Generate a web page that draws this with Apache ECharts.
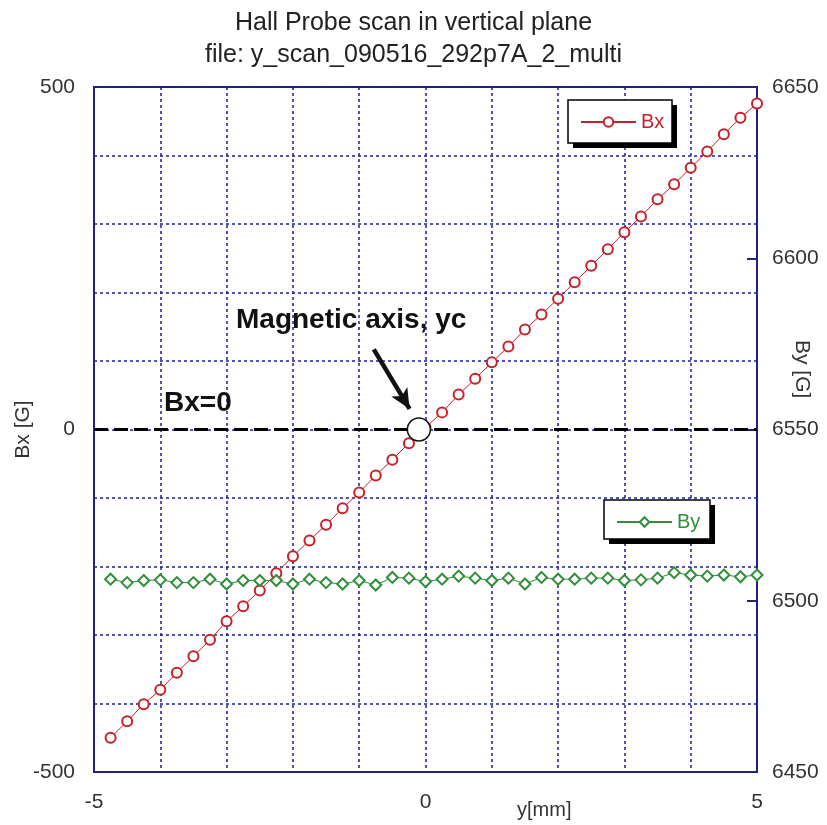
<!DOCTYPE html>
<html>
<head>
<meta charset="utf-8">
<title>Hall Probe scan</title>
<script src="https://cdn.jsdelivr.net/npm/echarts@6/dist/echarts.min.js"></script>
<style>
  html, body { margin: 0; padding: 0; background: #fff; }
  #chart { width: 827px; height: 825px; }
</style>
</head>
<body>
<div id="chart"></div>
<script>
// scan positions y [mm]
const yPos = [
  -4.75, -4.5, -4.25, -4, -3.75, -3.5, -3.25, -3, -2.75, -2.5,
  -2.25, -2, -1.75, -1.5, -1.25, -1, -0.75, -0.5, -0.25, 0,
  0.25, 0.5, 0.75, 1, 1.25, 1.5, 1.75, 2, 2.25, 2.5,
  2.75, 3, 3.25, 3.5, 3.75, 4, 4.25, 4.5, 4.75, 5
]

// Bx [G], left axis
const bxValues = [
  -450, -426, -401, -380, -355, -331, -307, -280, -258, -235,
  -210, -185, -162, -139, -115, -92, -67, -44, -20, 3,
  25, 51, 74, 98, 121, 146, 168, 191, 215, 239,
  263, 288, 311, 336, 358, 382, 406, 431, 455, 476
]

// By [G], right axis
const byValues = [
  6506.3, 6505.3, 6505.9, 6506.1, 6505.3, 6505.3, 6506.3, 6504.9, 6505.9, 6505.9,
  6505.9, 6504.9, 6506.3, 6505.3, 6504.9, 6505.9, 6504.6, 6506.8, 6506.6, 6505.6,
  6506.3, 6507.2, 6506.6, 6505.9, 6506.6, 6504.9, 6506.8, 6506.3, 6506.3, 6506.6,
  6506.6, 6505.9, 6506.1, 6506.6, 6508.2, 6507.5, 6507.2, 6507.5, 6507.0, 6507.5
]

const xTickLabels = [-5, 0, 5]
const bxTickLabels = [-500, 0, 500]
const byTickLabels = [6450, 6500, 6550, 6600, 6650]

// magnetic axis crossing and the arrow pointing at it (data coords)
const magAxis = [[-0.1, 0]]
const arrowFrom = [-0.78, 117]
const arrowTo = [-0.24, 30]

const gridColor = '#1c1c9a'
const frameColor = '#23237f'
const bxColor = '#c8202a'
const byColor = '#2f8f3a'
const font = 'Liberation Sans, Arial, sans-serif'

const chart = echarts.init(document.getElementById('chart'))

// boxed legend with a hard black drop shadow
const legendBox = (x, y, w, h) => ([
  { type: 'rect', z: 20, shape: { x: x + 5, y: y + 5, width: w, height: h }, style: { fill: '#000' } },
  { type: 'rect', z: 21, shape: { x: x, y: y, width: w, height: h }, style: { fill: '#fff', stroke: '#000', lineWidth: 1.5 } }
])

const legendBase = {
  orient: 'horizontal',
  padding: 0,
  itemWidth: 55,
  itemHeight: 12,
  selectedMode: false,
  z: 30
}

const option = {
  backgroundColor: '#fff',
  animation: false,
  title: {
    text: 'Hall Probe scan in vertical plane\nfile: y_scan_090516_292p7A_2_multi',
    left: 'center',
    top: 2,
    textStyle: {
      fontFamily: font,
      fontSize: 25,
      fontWeight: 'normal',
      color: '#222',
      lineHeight: 32
    }
  },
  legend: [
    Object.assign({}, legendBase, {
      left: 580,
      top: 112,
      data: [{ name: 'Bx', textStyle: { color: bxColor } }],
      textStyle: { fontFamily: font, fontSize: 20, color: bxColor }
    }),
    Object.assign({}, legendBase, {
      left: 616,
      top: 512,
      data: [{ name: 'By', textStyle: { color: byColor } }],
      textStyle: { fontFamily: font, fontSize: 20, color: byColor }
    })
  ],
  grid: {
    left: 94,
    right: 70,
    top: 87,
    bottom: 53,
    outerBoundsMode: 'none',
    containLabel: false,
    show: true,
    borderColor: frameColor,
    borderWidth: 2,
    backgroundColor: '#fff'
  },
  xAxis: {
    type: 'value',
    min: -5,
    max: 5,
    interval: 1,
    axisLine: { onZero: false, lineStyle: { color: frameColor, width: 2 } },
    axisTick: { show: false },
    axisLabel: {
      margin: 20,
      fontFamily: font,
      fontSize: 21,
      color: '#333',
      formatter: v => xTickLabels.includes(v) ? String(v) : ''
    },
    splitLine: {
      show: true,
      lineStyle: { color: gridColor, width: 1.5, type: [3, 3] }
    }
  },
  yAxis: [
    {
      type: 'value',
      min: -500,
      max: 500,
      interval: 100,
      name: 'Bx [G]',
      nameLocation: 'middle',
      nameGap: 60,
      nameMoveOverlap: false,
      nameRotate: 90,
      nameTextStyle: { fontFamily: font, fontSize: 21, color: '#333' },
      axisLine: { onZero: false, lineStyle: { color: frameColor, width: 2 } },
      axisTick: { show: false },
      axisLabel: {
        margin: 19,
        fontFamily: font,
        fontSize: 21,
        color: '#333',
        formatter: v => bxTickLabels.includes(v) ? String(v) : ''
      },
      splitLine: {
        show: true,
        lineStyle: { color: gridColor, width: 1.5, type: [3, 3] }
      }
    },
    {
      type: 'value',
      position: 'right',
      min: 6450,
      max: 6650,
      interval: 50,
      axisLine: { show: true, onZero: false, lineStyle: { color: frameColor, width: 2 } },
      axisTick: { show: true, inside: true, length: 10, lineStyle: { color: frameColor, width: 2 } },
      axisLabel: {
        margin: 15,
        fontFamily: font,
        fontSize: 21,
        color: '#333',
        formatter: v => byTickLabels.includes(v) ? String(v) : ''
      },
      splitLine: { show: false }
    }
  ],
  graphic: [
    {
      type: 'text',
      left: 517,
      top: 800,
      style: { text: 'y[mm]', font: '20px ' + font, fill: '#333' }
    },
    {
      type: 'text',
      x: 812,
      y: 340,
      rotation: -Math.PI / 2,
      style: { text: 'By [G]', font: '21px ' + font, fill: '#333' }
    },
    {
      type: 'text',
      left: 236,
      top: 306,
      z: 10,
      style: { text: 'Magnetic axis, yc', font: 'bold 28px ' + font, fill: '#111' }
    },
    {
      type: 'text',
      left: 164,
      top: 389,
      z: 10,
      style: { text: 'Bx=0', font: 'bold 28px ' + font, fill: '#111' }
    }
  ].concat(legendBox(568, 100, 104, 43), legendBox(604, 500, 106, 39)),
  series: [
    {
      name: 'Bx',
      type: 'line',
      yAxisIndex: 0,
      data: yPos.map((y, i) => [y, bxValues[i]]),
      symbol: 'emptyCircle',
      symbolSize: 10,
      lineStyle: { color: bxColor, width: 1 },
      itemStyle: { color: bxColor, borderColor: bxColor, borderWidth: 1.8 },
      z: 3,
      markLine: {
        silent: true,
        symbol: ['none', 'none'],
        label: { show: false },
        lineStyle: { color: '#000', width: 3, type: [14, 6] },
        data: [{ yAxis: 0 }]
      }
    },
    {
      name: 'By',
      type: 'line',
      yAxisIndex: 1,
      data: yPos.map((y, i) => [y, byValues[i]]),
      symbol: 'emptyDiamond',
      symbolSize: 11,
      lineStyle: { color: byColor, width: 1 },
      itemStyle: { color: byColor, borderColor: byColor, borderWidth: 1.2 },
      z: 3
    },
    {
      name: 'yc',
      type: 'scatter',
      yAxisIndex: 0,
      data: magAxis,
      symbol: 'circle',
      symbolSize: 23,
      itemStyle: { color: '#fff', opacity: 1, borderColor: '#111', borderWidth: 1.5 },
      z: 6,
      markLine: {
        silent: true,
        symbol: ['none', 'arrow'],
        symbolSize: [14, 20],
        label: { show: false },
        lineStyle: { color: '#111', width: 4.5, type: 'solid' },
        data: [[{ coord: arrowFrom }, { coord: arrowTo }]]
      }
    }
  ]
}

chart.setOption(option)
</script>
</body>
</html>
